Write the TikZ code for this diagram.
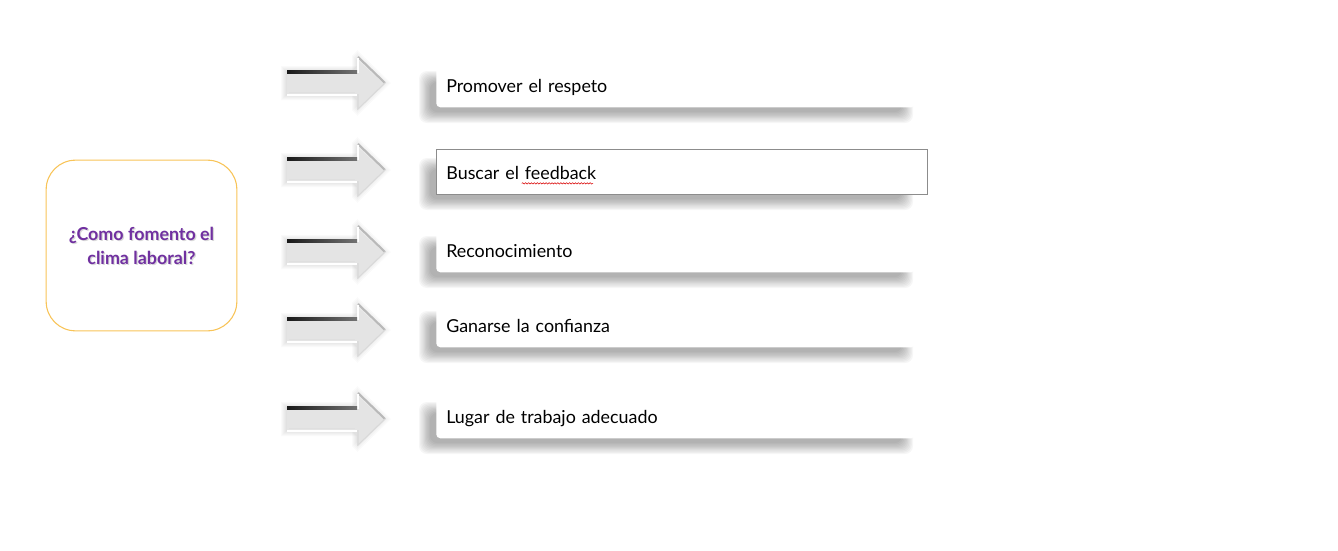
\documentclass[tikz,border=0pt]{standalone}
\usepackage{fontspec}
\setmainfont{Lato}
\usetikzlibrary{decorations.pathmorphing,calc}
\definecolor{purp}{RGB}{112,48,160}
\definecolor{orng}{RGB}{248,196,88}
\definecolor{arrfill}{RGB}{228,228,228}
\definecolor{boxline}{RGB}{140,140,140}
\newcommand\itemfont{\fontsize{13.4}{16}\selectfont}
\newcommand\blurshadow[5]{% x1,y1,x2,y2,opacity
  \foreach \k in {0,...,9}{%
    \fill[black,opacity=#5,rounded corners=6pt]
      ({#1-9+\k*1.2},{#2-9+\k*1.2}) rectangle ({#3+9-\k*1.2},{#4+9-\k*1.2});}}
\newcommand\bigarrow[2]{% name, centre y
  \coordinate (#1) at (287,#2);
  \foreach \k in {0,...,5}{%
    \fill[black,opacity=0.018]
      ($(#1)+({-6+\k},{-17+\k})$) -- ++({76-2*\k},0) -- ++(0,-16) -- ++({34-\k},{33-\k}) -- ++({-34+\k},{33-\k}) -- ++(0,-16) -- ++({-76+2*\k},0) -- cycle;}
  \fill[arrfill] ($(#1)+(0,-11)$) -- ++(70,0) -- ++(0,-16) -- ++(29,27) -- ++(-29,27) -- ++(0,-16) -- ++(-70,0) -- cycle;
  \fill[white!85!gray] ($(#1)+(70,-27)$) -- ++(29,27) -- ++(-3,0) -- ++(-24,-22) -- cycle;
  \draw[gray!55,line width=1.6pt] ($(#1)+(71,-26)$) -- ++(27,26);
  \draw[white,line width=1.2pt] ($(#1)+(71,-10)$) -- ++(0,-15);
  \draw[gray!30,line width=0.8pt] ($(#1)+(98,0)$) -- ++(-27,26) -- ++(0,-15);
  \shade[left color=black!90,right color=black!55] ($(#1)+(0,-12.5)$) rectangle ++(70,3);
  \draw[white,line width=1.2pt] ($(#1)+(0,12)$) -- ++(70,0);
  \draw[gray!25,line width=0.6pt] ($(#1)+(2,9)$) -- ++(66,0);
}
\tikzset{
  itembox/.style={anchor=north west, minimum height=33.75pt, minimum width=359.25pt,
    text width=344.25pt, text height=12pt, text depth=0pt,
    inner xsep=7.5pt, inner ysep=0pt, align=left, fill=white,
    rounded corners=3pt, font=\itemfont, text=black},
  mainbox/.style={draw=orng, line width=0.8pt, rounded corners=22pt, fill=white,
    minimum width=143pt, minimum height=128pt},
  maintext/.style={align=center, font=\fontsize{13.4}{18}\selectfont\bfseries},
  spell/.style={red!85!black, line width=0.4pt, decorate,
    decoration={snake, amplitude=0.5pt, segment length=2.2pt}}
}
\begin{document}
\begin{tikzpicture}[x=0.75pt,y=-0.75pt]
\useasboundingbox (0,0) rectangle (1338,550);
% central question
\node[mainbox] (q) at (141.5,245.5) {};
\node[maintext, text=gray!50, opacity=0.6] at ([xshift=0.9pt,yshift=-0.9pt]q.center) {¿Como fomento el\\clima laboral?};
\node[maintext, text=purp] (qt) at (q.center) {¿Como fomento el\\clima laboral?};
% arrows
\bigarrow{a1}{83}
\bigarrow{a2}{170}
\bigarrow{a3}{252}
\bigarrow{a4}{330}
\bigarrow{a5}{419}
% shadows of boxes
\blurshadow{428}{80}{904}{114}{0.036}
\blurshadow{428}{167}{904}{201}{0.036}
\blurshadow{428}{245}{904}{279}{0.036}
\blurshadow{428}{320}{904}{354}{0.036}
\blurshadow{428}{411}{904}{445}{0.036}
% boxes
\node[itembox] (b1) at (436,62) {Promover el respeto};
\node[itembox, draw=boxline, line width=0.6pt, rounded corners=0pt,
      minimum width=368.25pt, text width=353.25pt] (b2) at (436,149) {Buscar el feedback};
\node[itembox] (b3) at (436,227) {Reconocimiento};
\node[itembox] (b4) at (436,302) {Ganarse la confianza};
\node[itembox] (b5) at (436,393) {Lugar de trabajo adecuado};
% spelling mark under "feedback"
\itemfont
\pgfmathsetmacro\wa{width("Buscar el ")}
\pgfmathsetmacro\wb{width("feedback")}
\draw[spell] ([xshift={7.5pt+\wa pt}, yshift=-2.6pt]b2.base west) -- ++(\wb pt,0);
\end{tikzpicture}
\end{document}
